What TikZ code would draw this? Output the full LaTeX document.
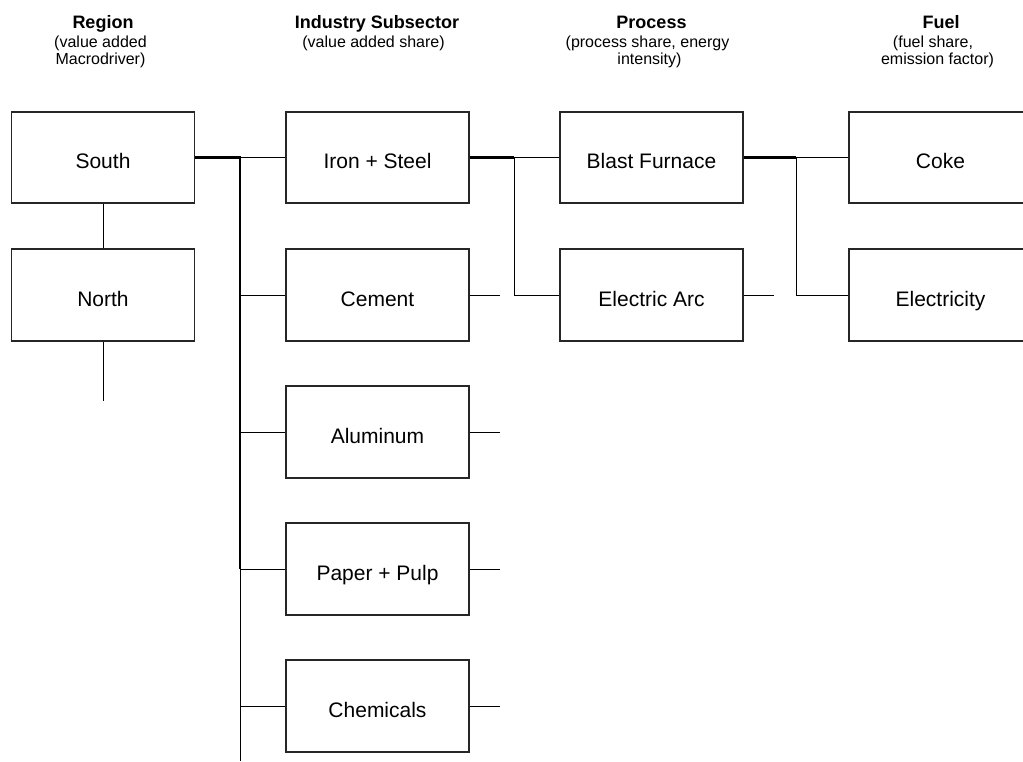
\documentclass[tikz,border=0pt]{standalone}
\usepackage{fontspec}
\setmainfont{Liberation Sans}
\begin{document}
\begin{tikzpicture}[x=1pt,y=-1pt,
  box/.style={draw=black!85, line width=1.6pt, minimum width=183pt, minimum height=91.5pt,
    inner sep=0pt, font=\fontsize{21}{21}\selectfont, text height=22pt, text depth=0pt},
  ttl/.style={anchor=base, inner sep=0pt, font=\bfseries\fontsize{18}{18}\selectfont},
  sub/.style={anchor=base, inner sep=0pt, font=\fontsize{16}{16}\selectfont},
  link/.style={line width=1pt},
  trunk/.style={line width=2.2pt}]
\useasboundingbox (0,0) rectangle (1023,761);
\clip (0,0) rectangle (1023,761);

% column headings
\node[ttl] (hreg) at (103,28) {Region};
\node[sub] (hreg1) at (100.5,47.5) {(value added};
\node[sub] (hreg2) at (100.5,64) {Macrodriver)};
\node[ttl] (hind) at (377,28) {Industry Subsector};
\node[sub] (hind1) at (373.5,47.5) {(value added share)};
\node[ttl] (hpro) at (651.5,28) {Process};
\node[sub] (hpro1) at (647.5,47.5) {(process share, energy};
\node[sub] (hpro2) at (649.5,64) {intensity)};
\node[ttl] (hfue) at (941,28) {Fuel};
\node[sub] (hfue1) at (933,47.5) {(fuel share,};
\node[sub] (hfue2) at (937.5,64) {emission factor)};

% regions
\node[box] (south) at (103,157.5) {South};
\node[box] (north) at (103,295) {North};

% industry subsectors
\node[box] (iron) at (377.5,157.5) {Iron + Steel};
\node[box] (cement) at (377.5,295) {Cement};
\node[box] (alu) at (377.5,432) {Aluminum};
\node[box] (paper) at (377.5,569) {Paper + Pulp};
\node[box] (chem) at (377.5,706) {Chemicals};

% processes
\node[box] (blast) at (651.5,157.5) {Blast Furnace};
\node[box] (arc) at (651.5,295) {Electric Arc};

% fuels
\node[box] (coke) at (940.5,157.5) {Coke};
\node[box] (elec) at (940.5,295) {Electricity};

% trunk points
\coordinate (t1) at (240,157.5);
\coordinate (t1b) at (240,569);
\coordinate (t1e) at (240,761);
\coordinate (t2) at (514,157.5);
\coordinate (t3) at (796,157.5);
\coordinate (nend) at (103,401);

% region links
\draw[link] (south.south) -- (north.north);
\draw[link] (north.south) -- (nend);

% region to subsectors
\draw[trunk] (south.east) -- (t1) -- (t1b);
\draw[link] (t1) -- (t1e);
\draw[link] (t1) -- (iron.west);
\foreach \n in {cement,alu,paper,chem}
  \draw[link] (t1 |- \n.west) -- (\n.west);
\foreach \n in {cement,alu,paper,chem}
  \draw[link] (\n.east) -- ++(30,0);

% subsector to processes
\draw[trunk] (iron.east) -- (t2);
\draw[link] (t2) -- (blast.west);
\draw[link] (t2) |- (arc.west);
\draw[link] (arc.east) -- ++(30,0);

% process to fuels
\draw[trunk] (blast.east) -- (t3);
\draw[link] (t3) -- (coke.west);
\draw[link] (t3) |- (elec.west);
\end{tikzpicture}
\end{document}
